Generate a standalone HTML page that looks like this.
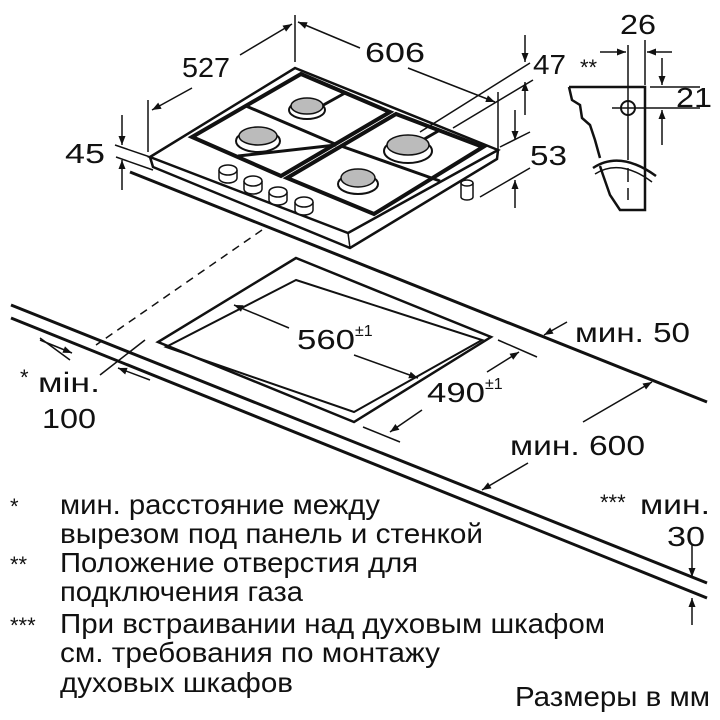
<!DOCTYPE html>
<html><head><meta charset="utf-8"><style>
html,body{margin:0;padding:0;background:#fff}
svg{display:block}
text{font-family:"Liberation Sans",sans-serif;fill:#111}
</style></head><body>
<svg width="720" height="720" viewBox="0 0 720 720" xmlns="http://www.w3.org/2000/svg">
<g stroke="#111" fill="none" stroke-width="1.5">
<line x1="130" y1="172" x2="707" y2="402" stroke-width="3"/>
<line x1="11" y1="305" x2="707" y2="583" stroke-width="3"/>
<line x1="11" y1="318" x2="707" y2="598" stroke-width="3"/>
<line x1="262" y1="230" x2="96" y2="345" stroke-dasharray="8,6"/>
<line x1="145" y1="340" x2="100" y2="375"/>
<line x1="70" y1="360" x2="40" y2="338"/>
<polygon points="296,258 158,342 354,422 491,337" stroke-width="2.5"/>
<polygon points="296,280 166,347 354,412 482,340" stroke-width="2"/>
<line x1="289" y1="328" x2="234" y2="305"/>
<line x1="354" y1="355" x2="418" y2="378"/>
<line x1="498" y1="340" x2="537" y2="357"/>
<line x1="363" y1="427" x2="400" y2="442"/>
<line x1="487" y1="372" x2="519" y2="352"/>
<line x1="422" y1="410" x2="390" y2="432"/>
<line x1="567" y1="322" x2="544" y2="335"/>
<line x1="583" y1="422" x2="652" y2="382"/>
<line x1="528" y1="463" x2="482" y2="490"/>
<line x1="692" y1="545" x2="692" y2="577"/>
<line x1="692" y1="625" x2="692" y2="598"/>
<line x1="40" y1="340" x2="72" y2="353"/>
<line x1="150" y1="380" x2="118" y2="368"/>
<polygon points="150,157 295,68 498,150 348,233" stroke-width="2.5" fill="#fff"/>
<polyline points="150,157 153,167 350,248 497,159 498,150" stroke-width="2.5"/>
<line x1="348" y1="233" x2="350" y2="248" stroke-width="1.5"/>
<polygon points="192,137 301,74 390,112 281,176" stroke-width="4"/>
<polygon points="287,178 396,114 483,147 374,214" stroke-width="4"/>
<line x1="246" y1="106" x2="335" y2="144" stroke-width="3"/>
<line x1="341" y1="146" x2="440" y2="181" stroke-width="3"/>
<line x1="336" y1="145" x2="238" y2="156" stroke-width="3"/>
<line x1="345" y1="93" x2="300" y2="118" stroke-width="3"/>
<line x1="440" y1="130" x2="395" y2="156" stroke-width="3"/>
<ellipse cx="307" cy="110" rx="18" ry="9" fill="#fff" stroke-width="2"/>
<ellipse cx="307" cy="106" rx="16" ry="8" fill="#bbb"/>
<ellipse cx="258" cy="141" rx="22" ry="11" fill="#fff" stroke-width="2"/>
<ellipse cx="258" cy="136" rx="19" ry="9" fill="#bbb"/>
<ellipse cx="408" cy="151" rx="24" ry="12" fill="#fff" stroke-width="2"/>
<ellipse cx="408" cy="145" rx="21" ry="10" fill="#bbb"/>
<ellipse cx="358" cy="184" rx="20" ry="10" fill="#fff" stroke-width="2"/>
<ellipse cx="358" cy="178" rx="17" ry="9" fill="#bbb"/>
<g fill="#fff" stroke-width="1.5">
<path d="M219,170 v8 a9,5 0 0 0 18,0 v-8"/><ellipse cx="228" cy="170" rx="9" ry="5"/>
<path d="M244,181 v8 a9,5 0 0 0 18,0 v-8"/><ellipse cx="253" cy="181" rx="9" ry="5"/>
<path d="M269,192 v8 a9,5 0 0 0 18,0 v-8"/><ellipse cx="278" cy="192" rx="9" ry="5"/>
<path d="M295,202 v8 a9,5 0 0 0 18,0 v-8"/><ellipse cx="304" cy="202" rx="9" ry="5"/>
<path d="M461,183 v14 a6,3 0 0 0 12,0 v-14"/><ellipse cx="467" cy="183" rx="6" ry="3"/>
</g>
<line x1="148" y1="100" x2="148" y2="152"/>
<line x1="295" y1="15" x2="295" y2="62"/>
<line x1="192" y1="88" x2="152" y2="110"/>
<line x1="240" y1="55" x2="292" y2="24"/>
<line x1="360" y1="48" x2="298" y2="22"/>
<line x1="408" y1="68" x2="495" y2="102"/>
<line x1="498" y1="92" x2="498" y2="150"/>
<line x1="420" y1="132" x2="530" y2="63"/>
<line x1="453" y1="128" x2="533" y2="80"/>
<line x1="525" y1="35" x2="525" y2="62"/>
<line x1="525" y1="115" x2="525" y2="82"/>
<line x1="500" y1="147" x2="530" y2="132"/>
<line x1="480" y1="197" x2="530" y2="168"/>
<line x1="515" y1="110" x2="515" y2="140"/>
<line x1="515" y1="208" x2="515" y2="180"/>
<line x1="115" y1="145" x2="153" y2="158"/>
<line x1="116" y1="157" x2="153" y2="170"/>
<line x1="122" y1="115" x2="122" y2="145"/>
<line x1="122" y1="190" x2="122" y2="160"/>
<path d="M569,87 H645 V210 H620 L610,195 L603,175 L600,166" stroke-width="2.5"/>
<path d="M569,87 L572,100 L580,105 L582,118 L590,125 L595,140 L600,158" stroke-width="2.5"/>
<path d="M593,168 Q620,150 656,176" stroke-width="2.5"/>
<path d="M595,174 Q620,158 652,182" stroke-width="1.5"/>
<circle cx="628" cy="108" r="7" stroke-width="2"/>
<line x1="628" y1="45" x2="628" y2="160"/>
<line x1="628" y1="168" x2="628" y2="200" stroke-dasharray="14,6"/>
<line x1="645" y1="40" x2="645" y2="85"/>
<line x1="612" y1="108" x2="700" y2="108"/>
<line x1="650" y1="87" x2="700" y2="87"/>
<line x1="600" y1="52" x2="626" y2="52"/>
<line x1="672" y1="52" x2="647" y2="52"/>
<line x1="662" y1="58" x2="662" y2="85"/>
<line x1="662" y1="145" x2="662" y2="110"/>
</g>
<g fill="#111" stroke="none">
<polygon points="234,305 243.6,305.3 241,311.7"/>
<polygon points="418,378 408.3,378.3 410.7,371.7"/>
<polygon points="519,352 513.2,359.7 509.5,353.8"/>
<polygon points="390,432 399.4,429.8 395.4,424"/>
<polygon points="544,335 553.5,333.6 550.1,327.5"/>
<polygon points="652,382 646,389.5 642.5,383.5"/>
<polygon points="482,490 491.5,488.4 488,482.4"/>
<polygon points="692,577 688.5,568 695.5,568"/>
<polygon points="692,598 688.5,607 695.5,607"/>
<polygon points="72,353 62.4,352.8 65,346.4"/>
<polygon points="118,368 127.6,367.9 125.2,374.5"/>
<polygon points="152,110 161.6,108.8 158.2,102.6"/>
<polygon points="292,24 286.1,31.6 282.5,25.6"/>
<polygon points="298,22 307.6,22.3 305,28.7"/>
<polygon points="495,102 485.3,102 487.9,95.4"/>
<polygon points="525,62 521.5,53 528.5,53"/>
<polygon points="525,82 521.5,91 528.5,91"/>
<polygon points="515,140 511.5,131 518.5,131"/>
<polygon points="515,180 511.5,189 518.5,189"/>
<polygon points="122,145 118.5,136 125.5,136"/>
<polygon points="122,160 118.5,169 125.5,169"/>
<polygon points="662,85 658.5,76 665.5,76"/>
<polygon points="662,110 658.5,119 665.5,119"/>
<polygon points="626,52 617,48.5 617,55.5"/>
<polygon points="647,52 656,48.5 656,55.5"/>
</g>
<g font-size="28">
<text x="182" y="77" textLength="48" lengthAdjust="spacingAndGlyphs">527</text>
<text x="365" y="62" textLength="60" lengthAdjust="spacingAndGlyphs">606</text>
<text x="533" y="74" textLength="33" lengthAdjust="spacingAndGlyphs">47</text>
<text x="530" y="165" textLength="37" lengthAdjust="spacingAndGlyphs">53</text>
<text x="65" y="163" textLength="40" lengthAdjust="spacingAndGlyphs">45</text>
<text x="620" y="34" textLength="36" lengthAdjust="spacingAndGlyphs">26</text>
<text x="676" y="107" textLength="36" lengthAdjust="spacingAndGlyphs">21</text>
<text x="580" y="75" font-size="22">**</text>
<text x="297" y="349" textLength="58" lengthAdjust="spacingAndGlyphs">560</text>
<text x="355" y="336" font-size="16">±1</text>
<text x="427" y="402" textLength="58" lengthAdjust="spacingAndGlyphs">490</text>
<text x="485" y="389" font-size="16">±1</text>
<text x="575" y="342" textLength="115" lengthAdjust="spacingAndGlyphs">мин. 50</text>
<text x="510" y="455" textLength="135" lengthAdjust="spacingAndGlyphs">мин. 600</text>
<text x="600" y="510" font-size="22">***</text>
<text x="640" y="514" textLength="70" lengthAdjust="spacingAndGlyphs">мин.</text>
<text x="667" y="546" textLength="38" lengthAdjust="spacingAndGlyphs">30</text>
<text x="20" y="385" font-size="22">*</text>
<text x="38" y="392" textLength="62" lengthAdjust="spacingAndGlyphs">мін.</text>
<text x="42" y="428" textLength="54" lengthAdjust="spacingAndGlyphs">100</text>
<text x="10" y="514" font-size="22">*</text>
<text x="60" y="514" textLength="320" lengthAdjust="spacingAndGlyphs">мин. расстояние между</text>
<text x="60" y="543" textLength="423" lengthAdjust="spacingAndGlyphs">вырезом под панель и стенкой</text>
<text x="10" y="572" font-size="22">**</text>
<text x="60" y="572" textLength="358" lengthAdjust="spacingAndGlyphs">Положение отверстия для</text>
<text x="60" y="601" textLength="243" lengthAdjust="spacingAndGlyphs">подключения газа</text>
<text x="10" y="633" font-size="22">***</text>
<text x="60" y="633" textLength="545" lengthAdjust="spacingAndGlyphs">При встраивании над духовым шкафом</text>
<text x="60" y="662" textLength="380" lengthAdjust="spacingAndGlyphs">см. требования по монтажу</text>
<text x="60" y="692" textLength="233" lengthAdjust="spacingAndGlyphs">духовых шкафов</text>
<text x="515" y="706" textLength="195" lengthAdjust="spacingAndGlyphs">Размеры в мм</text>
</g>
</svg>
</body></html>
